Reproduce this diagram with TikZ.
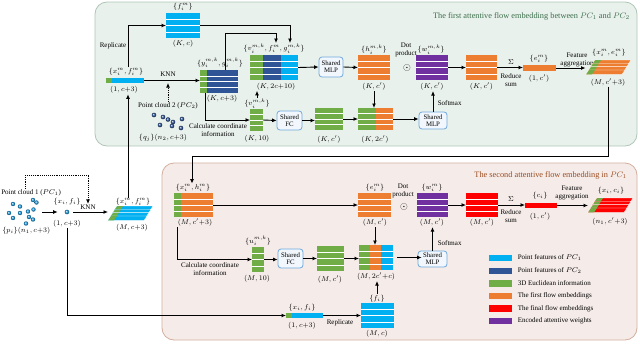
\documentclass[tikz,border=0pt]{standalone}
\usepackage{fontspec}
\setmainfont{Liberation Serif}
\usetikzlibrary{calc,arrows.meta}
\definecolor{lblue}{HTML}{00B0F0}
\definecolor{dblue}{HTML}{2F5597}
\definecolor{fgreen}{HTML}{70AD47}
\definecolor{orng}{HTML}{ED7D31}
\definecolor{rred}{HTML}{FF0000}
\definecolor{purp}{HTML}{7030A0}
\definecolor{panelG}{HTML}{E9F1EC}
\definecolor{panelGd}{HTML}{AFC6B6}
\definecolor{panelR}{HTML}{F5ECE9}
\definecolor{panelRd}{HTML}{D3AE9E}
\definecolor{tgreen}{HTML}{3B6E4B}
\definecolor{tbrown}{HTML}{9A4A1E}
\definecolor{shB}{HTML}{6FA8DC}
\definecolor{shF}{HTML}{F1F7FC}
\definecolor{pcone}{HTML}{1E9FE6}
\newcommand{\segs}[2]{\foreach \c/\a/\b in {#2}{\fill[\c] ($(#1.north west)!\a!(#1.north east)$) rectangle ($(#1.south west)!\b!(#1.south east)$);}}
\newcommand{\rowlines}[2]{\foreach \k in {1,...,#2}{\pgfmathsetmacro\fr{\k/(#2+1)}\draw[white, line width=0.5pt] ($(#1.north west)!\fr!(#1.south west)$) -- ($(#1.north east)!\fr!(#1.south east)$);}}
\newcommand{\stackbars}[3]{\foreach \k in {0,1,2,3}{\pgfmathsetmacro\ax{#1-2*\k}\pgfmathsetmacro\ty{#2+3.3*\k}
 \filldraw[draw=white, line width=0.3pt, fill=#3] (\ax+3,\ty) -- ++(36,0) -- ++(-3,4.5) -- ++(-36,0) -- cycle;
 \fill[fgreen] (\ax+3.2,\ty+0.2) -- ++(5.8,0) -- ++(-3,4.2) -- ++(-5.8,0) -- cycle;}}
\begin{document}
\begin{tikzpicture}[x=1pt,y=-1pt,
 lab/.style={font=\fontsize{7}{7.8}\selectfont, inner sep=0.6pt, align=center},
 bx/.style={inner sep=0, outer sep=0, draw=none},
 sh/.style={draw=shB, fill=shF, rounded corners=3pt, line width=0.8pt, inner sep=0, align=center, font=\fontsize{6.8}{7.2}\selectfont},
 arr/.style={-{Latex[length=4.5pt,width=4pt]}, line width=0.9pt},
 ttl/.style={font=\fontsize{8.3}{9}\selectfont, inner sep=0, anchor=east}]
\useasboundingbox (0,0) rectangle (640,343);
% panels
\draw[rounded corners=12, fill=panelG, draw=panelGd, line width=0.8pt] (95,2) rectangle (637,146);
\draw[rounded corners=12, fill=panelR, draw=panelRd, line width=0.8pt] (162,163) rectangle (637,340);
\node[ttl, text=tgreen] (T1) at (630,16) {The first attentive flow embedding between $PC_1$ and $PC_2$};
\node[ttl, text=tbrown] (T2) at (627,175) {The second attentive flow embedding in $PC_1$};

% ===== first panel =====
\node[bx, fill=lblue, minimum width=34, minimum height=25] (Bf) at (183,25.5) {};
\rowlines{Bf}{3}
\node[lab] (LBf) at (183,6.5) {$\{f_i^m\}$};
\node[lab] (DBf) at (183,44) {$(K, c)$};

\node[bx, fill=lblue, minimum width=38, minimum height=5] (bar1) at (125,80.5) {};
\segs{bar1}{fgreen/0/0.16}
\node[lab] (Lbar1) at (126,71.5) {$\{x_i^m, f_i^m\}$};
\node[lab] (Dbar1) at (124,90) {$(1, c{+}3)$};
\draw[arr] ([xshift=2]Lbar1.north) |- (Bf.west);
\node[lab, anchor=east] (rep1) at (127,46) {Replicate};

\node[bx, fill=dblue, minimum width=38, minimum height=23] (By) at (219,81.5) {};
\segs{By}{fgreen/0/0.18}
\rowlines{By}{3}
\node[lab] (LBy) at (220,63) {$\{y_i^{m,k}, g_i^{m,k}\}$};
\node[lab] (DBy) at (222,98.5) {$(K, c{+}3)$};
\draw[arr] (bar1.east) -- (bar1.east -| By.west);
\node[lab] (knn1) at (168,74) {KNN};

\node[lab] (pc2) at (168,106) {Point cloud 2 ($PC_2$)};
\draw[arr, densely dotted] (pc2.north) -- (pc2.north |- bar1.south);
\foreach \p in {(154,115),(163,117),(168,119.5),(173,122),(182,119),(160,125),(172,126),(181,128)}
  \shade[ball color=dblue] \p circle (2.3);
\node[lab] (Lq) at (163,137.5) {$\{q_j\}(n_2, c{+}3)$};

\node[bx, minimum width=48, minimum height=25] (Cat1) at (274,67.5) {};
\segs{Cat1}{fgreen/0/0.27, dblue/0.27/0.64, lblue/0.64/1}
\rowlines{Cat1}{3}
\node[lab] (Lcat) at (274,48.5) {$\{v_i^{m,k}, f_i^m, g_i^{m,k}\}$};
\node[lab] (Dcat) at (276,86.5) {$(K, 2c{+}10)$};
\coordinate (j1) at (276,33);
\draw[arr] ([xshift=6]By.north) |- (j1) -- (j1 |- Lcat.north);
\draw[arr] (Bf.east) -| ([xshift=16]Lcat.north);

\node[bx, fill=fgreen, minimum width=13, minimum height=22] (Bv) at (256.5,120) {};
\rowlines{Bv}{3}
\node[lab] (Lv) at (257,103.5) {$\{v_i^{m,k}\}$};
\node[lab] (Dv) at (257,138.5) {$(K, 10)$};
\draw[arr] (Lv.north) -- (Lv.north |- Dcat.south);
\draw[arr] ([xshift=-14]By.south) |- (Bv.west);
\node[lab] (calc1) at (218,130.5) {Calculate coordinate\\information};

\node[sh, minimum width=25, minimum height=19] (FC1) at (289.5,120.5) {Shared\\FC};
\draw[arr] (Bv.east) -- (FC1.west);
\node[bx, fill=fgreen, minimum width=28, minimum height=22] (G1) at (329,119) {};
\rowlines{G1}{3}
\node[lab] (DG1) at (329,139) {$(K, c')$};
\draw[arr] (FC1.east) -- (FC1.east -| G1.west);
\node[bx, minimum width=35, minimum height=22] (Cat2) at (375.5,119) {};
\segs{Cat2}{fgreen/0/0.5, orng/0.5/1}
\rowlines{Cat2}{3}
\node[lab] (DCat2) at (375,139) {$(K, 2c')$};
\draw[arr] (G1.east) -- (Cat2.west);
\node[sh, minimum width=28, minimum height=17] (MLP2) at (433,120.5) {Shared\\MLP};
\draw[arr] (Cat2.east) -- (Cat2.east -| MLP2.west);

\node[sh, minimum width=24, minimum height=20] (MLP1) at (331,67) {Shared\\MLP};
\draw[arr] (Cat1.east) -- (MLP1.west);
\node[bx, fill=orng, minimum width=32, minimum height=25] (H) at (374,67.5) {};
\rowlines{H}{3}
\node[lab] (LH) at (374,49.5) {$\{h_i^{m,k}\}$};
\node[lab] (DH) at (374,86.5) {$(K, c')$};
\draw[arr] (MLP1.east) -- (H.west);
\draw[arr] (DH.south) -- (DH.south |- Cat2.north);
\node[lab] (dot1) at (406,50) {Dot\\product};
\node[inner sep=0, font=\fontsize{10}{10}\selectfont] (od1) at (407,68) {$\odot$};
\node[bx, fill=purp, minimum width=32, minimum height=25] (W) at (432,67.5) {};
\rowlines{W}{3}
\node[lab] (LW) at (431,49.5) {$\{w_i^{m,k}\}$};
\node[lab] (DW) at (432,86.5) {$(K, c')$};
\draw[arr] (MLP2.north) -- (MLP2.north |- DW.south);
\node[lab, anchor=west] (sm1) at (437,103) {Softmax};
\node[bx, fill=orng, minimum width=31, minimum height=25] (O2) at (481.5,67.5) {};
\rowlines{O2}{3}
\node[lab] (DO2) at (481.5,86.5) {$(K, c')$};
\draw[arr] (W.east) -- (O2.west);
\node[bx, fill=orng, minimum width=33, minimum height=6] (E) at (539.5,68) {};
\node[lab] (LE) at (539,59) {$\{e_i^m\}$};
\node[lab] (DE) at (539,78.5) {$(1, c')$};
\draw[arr] (O2.east) -- (O2.east -| E.west);
\node[lab, font=\fontsize{7.5}{8}\selectfont] (sig1) at (511,62) {$\Sigma$};
\node[lab] (rs1) at (511,80.5) {Reduce\\sum};
\node[lab] (fa1) at (577,60) {Feature\\aggregation};
\node[bx, minimum width=45, minimum height=16] (S2) at (608,68) {};
\stackbars{592}{60}{orng}
\draw[arr] (E.east) -- (E.east -| S2.west);
\node[lab] (LS2) at (609,52.5) {$\{x_i^m, e_i^m\}$};
\node[lab] (DS2) at (608,82) {$(M, c'{+}3)$};

% ===== left part =====
\node[lab, anchor=west] (pc1) at (0.5,193) {Point cloud 1 ($PC_1$)};
\foreach \p in {(13,204),(20,206.5),(33,200),(36.5,202.5),(9,213),(20,213),(28,211.5),(33.5,209.5),(29,217),(13,218),(33,219.5),(26,223.5)}
  \shade[ball color=pcone] \p circle (2.2);
\node[bx, minimum width=34, minimum height=26] (cloud) at (25,212) {};
\node[lab, anchor=west, font=\fontsize{6.6}{7.4}\selectfont] (Lp) at (1.5,230.5) {$\{p_i\}(n_1, c{+}3)$};
\node[bx, circle, minimum size=4.6] (xi) at (67,212) {};
\shade[ball color=pcone] (xi) circle (2.3);
\node[lab] (Lxi) at (67,202) {$\{x_i, f_i\}$};
\node[lab] (Dxi) at (67,223.5) {$(1, c{+}3)$};
\draw[arr, shorten >=7pt] (cloud.east) -- (xi.west);
\node[bx, minimum width=45, minimum height=16] (S1) at (130.5,213.5) {};
\stackbars{114}{206}{lblue}
\draw[arr, shorten <=4pt] (xi.east) -- (xi.east -| S1.west);
\node[lab] (knn2) at (88,207) {KNN};
\draw[arr, densely dotted] (pc1.north -| cloud.north) |- ($(knn2.north)+(0,-28)$) -- (knn2.north);
\node[lab] (LS1) at (133,202) {$\{x_i^m, f_i^m\}$};
\node[lab] (DS1) at (132,227.5) {$(M, c{+}3)$};
\draw[arr] ([xshift=-5]LS1.north) -- ([xshift=-5]LS1.north |- Dbar1.south);

% ===== second panel =====
\node[bx, fill=orng, minimum width=39, minimum height=24] (XH) at (193.5,205) {};
\segs{XH}{fgreen/0/0.17}
\rowlines{XH}{3}
\node[lab] (LXH) at (193,188) {$\{x_i^m, h_i^m\}$};
\node[lab] (DXH) at (195,222.5) {$(M, c'{+}3)$};
\coordinate (j2) at (192,156);
\draw[arr] (DS2.south) |- (j2) -- (j2 |- LXH.north);

\node[bx, fill=orng, minimum width=33, minimum height=24] (E2) at (374.5,205) {};
\rowlines{E2}{3}
\node[lab] (LE2) at (375,187.5) {$\{e_i^m\}$};
\node[lab] (DE2) at (375,222.5) {$(M, c')$};
\draw[arr] (XH.east) -- (E2.west);
\node[lab] (dot2) at (403,191) {Dot\\product};
\node[inner sep=0, font=\fontsize{10}{10}\selectfont] (od2) at (404,207) {$\odot$};
\node[bx, fill=purp, minimum width=31, minimum height=24] (W2) at (432.5,205) {};
\rowlines{W2}{3}
\node[lab] (LW2) at (432,187.5) {$\{w_i^m\}$};
\node[lab] (DW2) at (432,222.5) {$(M, c')$};
\node[bx, fill=rred, minimum width=32, minimum height=24] (R2) at (482,205) {};
\rowlines{R2}{3}
\node[lab] (DR2) at (482,222.5) {$(M, c')$};
\draw[arr] (W2.east) -- (R2.west);
\node[bx, fill=rred, minimum width=32, minimum height=5.5] (C) at (541,205.5) {};
\node[lab] (LC) at (540,195.5) {$\{c_i\}$};
\node[lab] (DC) at (540,216.5) {$(1, c')$};
\draw[arr] (R2.east) -- (R2.east -| C.west);
\node[lab, font=\fontsize{7.5}{8}\selectfont] (sig2) at (511,199.5) {$\Sigma$};
\node[lab] (rs2) at (511,216.5) {Reduce\\sum};
\node[lab] (fa2) at (572,193) {Feature\\aggregation};
\node[bx, minimum width=45, minimum height=17] (S3) at (610.5,205.5) {};
\stackbars{594}{198}{rred}
\draw[arr] (C.east) -- (C.east -| S3.west);
\node[lab] (LS3) at (611,190.5) {$\{x_i, c_i\}$};
\node[lab] (DS3) at (610,221.5) {$(n_1, c'{+}3)$};

\node[bx, fill=fgreen, minimum width=12, minimum height=25] (U) at (258,259.5) {};
\rowlines{U}{3}
\node[lab] (LU) at (258,241) {$\{u_i^{m,k}\}$};
\node[lab] (DU) at (257,279) {$(M, 10)$};
\draw[arr] ([xshift=3]XH.west |- DXH.south) |- (U.west);
\node[lab] (calc2) at (210,269.5) {Calculate coordinate\\information};
\node[sh, minimum width=25, minimum height=19] (FC2) at (290.5,258.5) {Shared\\FC};
\draw[arr] (U.east) -- (U.east -| FC2.west);
\node[bx, fill=fgreen, minimum width=27, minimum height=25] (G2) at (330.5,258.5) {};
\rowlines{G2}{3}
\node[lab] (DG2) at (330,279) {$(M, c')$};
\draw[arr] (FC2.east) -- (FC2.east -| G2.west);
\node[bx, minimum width=34, minimum height=25] (Cat3) at (376,257.5) {};
\segs{Cat3}{fgreen/0/0.33, orng/0.33/0.66, lblue/0.66/1}
\rowlines{Cat3}{3}
\node[lab] (DCat3) at (376,276.5) {$(M, 2c'{+}c)$};
\draw[arr] (G2.east) -- (G2.east -| Cat3.west);
\draw[arr] (DE2.south) -- (DE2.south |- Cat3.north);
\node[sh, minimum width=29, minimum height=16] (MLP3) at (432.5,259) {Shared\\MLP};
\draw[arr] ([xshift=4]Cat3.east) -- ([xshift=4]Cat3.east -| MLP3.west);
\draw[arr] (MLP3.north) -- (MLP3.north |- DW2.south);
\node[lab, anchor=west] (sm2) at (437,243) {Softmax};

\node[bx, fill=lblue, minimum width=33, minimum height=25] (F) at (377.5,315.5) {};
\rowlines{F}{3}
\node[lab] (LF) at (377,298.5) {$\{f_i\}$};
\node[lab] (DF) at (377,334) {$(M, c)$};
\draw[arr] (LF.north) -- (LF.north |- DCat3.south);
\node[bx, fill=lblue, minimum width=37, minimum height=5] (bar2) at (304.5,315.5) {};
\segs{bar2}{fgreen/0/0.16}
\node[lab] (Lbar2) at (302,307.5) {$\{x_i, f_i\}$};
\node[lab] (Dbar2) at (302,325.5) {$(1, c{+}3)$};
\draw[arr] (bar2.east) -- (bar2.east -| F.west);
\node[lab] (rep2) at (340,322.5) {Replicate};
\draw[arr] (Dxi.south) |- (bar2.west);

% ===== legend =====
\foreach \y/\c/\t in {258/lblue/{Point features of $PC_1$}, 271/dblue/{Point features of $PC_2$}, 283.5/fgreen/{3D Euclidean information}, 296/orng/{The first flow embeddings}, 308.5/rred/{The final flow embeddings}, 321/purp/{Encoded attentive weights}}{
  \fill[\c] (489,\y-3.3) rectangle (512,\y+3.3);
  \node[lab, anchor=west] at (517,\y) {\t};
}
\end{tikzpicture}
\end{document}
